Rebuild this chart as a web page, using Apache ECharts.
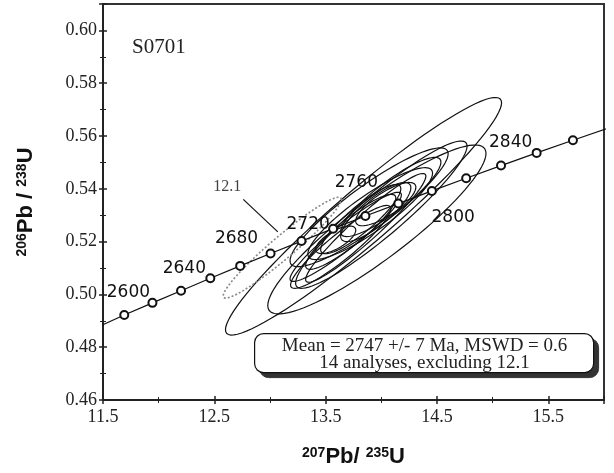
<!DOCTYPE html>
<html>
<head>
<meta charset="utf-8">
<script src="https://cdn.jsdelivr.net/npm/echarts@6/dist/echarts.min.js"></script>
<style>
html,body{margin:0;padding:0;background:#fff}
#chart{width:614px;height:473px}
</style>
</head>
<body>
<div id="chart"></div>
<script>
// concordia points, every 20 Ma
const concAges = [2560, 2580, 2600, 2620, 2640, 2660, 2680, 2700, 2720, 2740, 2760, 2780, 2800, 2820, 2840, 2860, 2880]
const concX = [11.444, 11.691, 11.944, 12.201, 12.464, 12.732, 13.005, 13.283, 13.567, 13.857, 14.153, 14.454, 14.762, 15.075, 15.395, 15.721, 16.054]
const concY = [0.4875, 0.4922, 0.4968, 0.5014, 0.5061, 0.5108, 0.5155, 0.5202, 0.5249, 0.5297, 0.5344, 0.5392, 0.5440, 0.5488, 0.5536, 0.5584, 0.5632]
const labelAges = [2600, 2640, 2680, 2720, 2760, 2800, 2840]

// analyses: centre, half width (x, y) and error correlation
const ellX   = [13.84, 13.96, 14.00, 13.89, 13.90, 13.59, 13.725, 13.815, 13.95, 13.68, 14.04, 13.86, 13.635, 14.085]
const ellHX  = [1.24, 0.98, 0.77, 0.71, 0.56, 0.18, 0.405, 0.36, 0.315, 0.50, 0.27, 0.54, 0.45, 0.45]
const ellY   = [0.5296, 0.5246, 0.5302, 0.5330, 0.5306, 0.5207, 0.5237, 0.5285, 0.5312, 0.5218, 0.5342, 0.5252, 0.5180, 0.5369]
const ellHY  = [0.0450, 0.0320, 0.0279, 0.0225, 0.0174, 0.0052, 0.0142, 0.0131, 0.0112, 0.0169, 0.0082, 0.0206, 0.0157, 0.0150]
const ellRho = [0.955, 0.90, 0.93, 0.90, 0.88, 0.70, 0.90, 0.88, 0.82, 0.94, 0.78, 0.95, 0.92, 0.88]

// excluded spot 12.1
const outX = [13.11], outHX = [0.53], outY = [0.5177], outHY = [0.0191], outRho = [0.957]
const outTag = '12.1'
const leaderX = [12.76, 13.07]
const leaderY = [0.536, 0.5237]

const serif = '"Liberation Serif", "DejaVu Serif", serif'
const sans = '"DejaVu Sans", sans-serif'
const boldSans = '"Liberation Sans", Arial, sans-serif'

const labelOffset = {
  2600: [-24, -10], 2640: [-26, -10], 2680: [-34, -15], 2720: [-25, -4],
  2760: [-42, -21], 2800: [-13, 39], 2840: [-26, -10]
}

function ellipseItem(style){
  return function(params, api){
    const cx = api.value(0), cy = api.value(1), hx = api.value(2), hy = api.value(3), r = api.value(4)
    const q = Math.sqrt(1 - r * r)
    const pts = []
    for(let k = 0; k < 90; k++){
      const t = k / 90 * Math.PI * 2
      pts.push(api.coord([cx + hx * Math.cos(t), cy + hy * (r * Math.cos(t) + q * Math.sin(t))]))
    }
    return {type: 'polygon', shape: {points: pts}, style: Object.assign({fill: 'none'}, style)}
  }
}

const chart = echarts.init(document.getElementById('chart'))

const axisCommon = {
  axisLine: {show: true, lineStyle: {color: '#222', width: 2}},
  axisTick: {show: true, length: 4, lineStyle: {color: '#222', width: 1.5}},
  minorTick: {show: true, splitNumber: 2, length: 3, lineStyle: {color: '#222'}},
  splitLine: {show: false}
}
const innerTicks = {
  axisLine: {show: false}, axisLabel: {show: false},
  axisTick: {show: true, inside: true, length: 4, lineStyle: {color: '#222', width: 1.5}},
  minorTick: {show: true, inside: true, splitNumber: 2, length: 3, lineStyle: {color: '#222'}},
  splitLine: {show: false}
}
const titleRich = {
  s: {fontFamily: boldSans, fontWeight: 'bold', fontSize: 14, color: '#111', verticalAlign: 'top', lineHeight: 22, padding: [0, 0, 8, 0]},
  b: {fontFamily: boldSans, fontWeight: 'bold', fontSize: 22, color: '#111', lineHeight: 22}
}

chart.setOption({
  animation: false,
  title: {
    text: 'S0701', left: 127, top: 32,
    textStyle: {fontFamily: serif, fontSize: 21, fontWeight: 'normal', color: '#222'}
  },
  grid: {left: 103, right: 10, top: 4, bottom: 68, show: true, borderColor: '#333', borderWidth: 2},
  xAxis: [
    Object.assign({}, axisCommon, {
      type: 'value', min: 11.5, max: 16.0, interval: 1,
      axisLabel: {fontFamily: serif, fontSize: 18, color: '#222', margin: 8,
        formatter: v => v < 16 ? v.toFixed(1) : ''},
      name: '{s|207}{b|Pb/ }{s|235}{b|U}', nameLocation: 'middle', nameGap: 46,
      nameTextStyle: {rich: titleRich}
    }),
    Object.assign({}, innerTicks, {type: 'value', min: 11.5, max: 16.0, interval: 1, position: 'bottom'})
  ],
  yAxis: [
    Object.assign({}, axisCommon, {
      type: 'value', min: 0.46, max: 0.61, interval: 0.02,
      axisLabel: {fontFamily: serif, fontSize: 18, color: '#222', margin: 6,
        formatter: v => v > 0.605 ? '' : v.toFixed(2)},
      name: '{s|206}{b|Pb / }{s|238}{b|U}', nameLocation: 'middle', nameGap: 66, nameRotate: 90,
      nameTextStyle: {rich: titleRich}
    }),
    Object.assign({}, innerTicks, {type: 'value', min: 0.46, max: 0.61, interval: 0.02, position: 'left'})
  ],
  graphic: [{
    type: 'group', left: 254, top: 333,
    children: [{
      type: 'rect', shape: {x: 5, y: 5, width: 339, height: 39, r: 9},
      style: {fill: '#333', stroke: '#333'}
    }, {
      type: 'rect', shape: {x: 0, y: 0, width: 339, height: 39, r: 9},
      style: {fill: '#fff', stroke: '#111', lineWidth: 1.2}
    }, {
      type: 'text', x: 170, y: 12,
      style: {text: 'Mean = 2747 +/- 7 Ma, MSWD = 0.6', font: '19px ' + serif, fill: '#222', align: 'center', verticalAlign: 'middle'}
    }, {
      type: 'text', x: 170, y: 29,
      style: {text: '14 analyses, excluding 12.1', font: '19px ' + serif, fill: '#222', align: 'center', verticalAlign: 'middle'}
    }]
  }],
  series: [{
    type: 'custom', name: 'analyses',
    renderItem: ellipseItem({stroke: '#111', lineWidth: 1.2}),
    encode: {x: 0, y: 1},
    data: ellX.map((x, i) => [x, ellY[i], ellHX[i], ellHY[i], ellRho[i]]),
    z: 2, clip: true
  }, {
    type: 'custom', name: 'excluded',
    renderItem: ellipseItem({stroke: '#888', lineWidth: 1.6, lineDash: [2, 2]}),
    encode: {x: 0, y: 1},
    data: outX.map((x, i) => [x, outY[i], outHX[i], outHY[i], outRho[i]]),
    z: 2, clip: true
  }, {
    type: 'line', name: 'leader',
    data: leaderX.map((x, i) => [x, leaderY[i]]),
    symbol: 'none', lineStyle: {color: '#111', width: 1.2}, z: 3
  }, {
    type: 'scatter', name: 'tag',
    data: [[leaderX[0], leaderY[0]]],
    symbolSize: 0,
    label: {show: true, formatter: outTag, position: 'inside', offset: [-16, -13],
      fontFamily: serif, fontSize: 16, color: '#111'},
    z: 3
  }, {
    type: 'line', name: 'concordia',
    data: concAges.map((a, i) => ({
      value: [concX[i], concY[i]],
      label: labelAges.includes(a)
        ? {show: true, formatter: String(a), position: 'inside', offset: labelOffset[a],
           fontFamily: sans, fontSize: 17, color: '#111'}
        : {show: false}
    })),
    symbol: 'emptyCircle', symbolSize: 8, clip: true,
    itemStyle: {color: '#111', borderWidth: 1.2},
    lineStyle: {color: '#111', width: 1.2},
    z: 5
  }]
})
</script>
</body>
</html>
